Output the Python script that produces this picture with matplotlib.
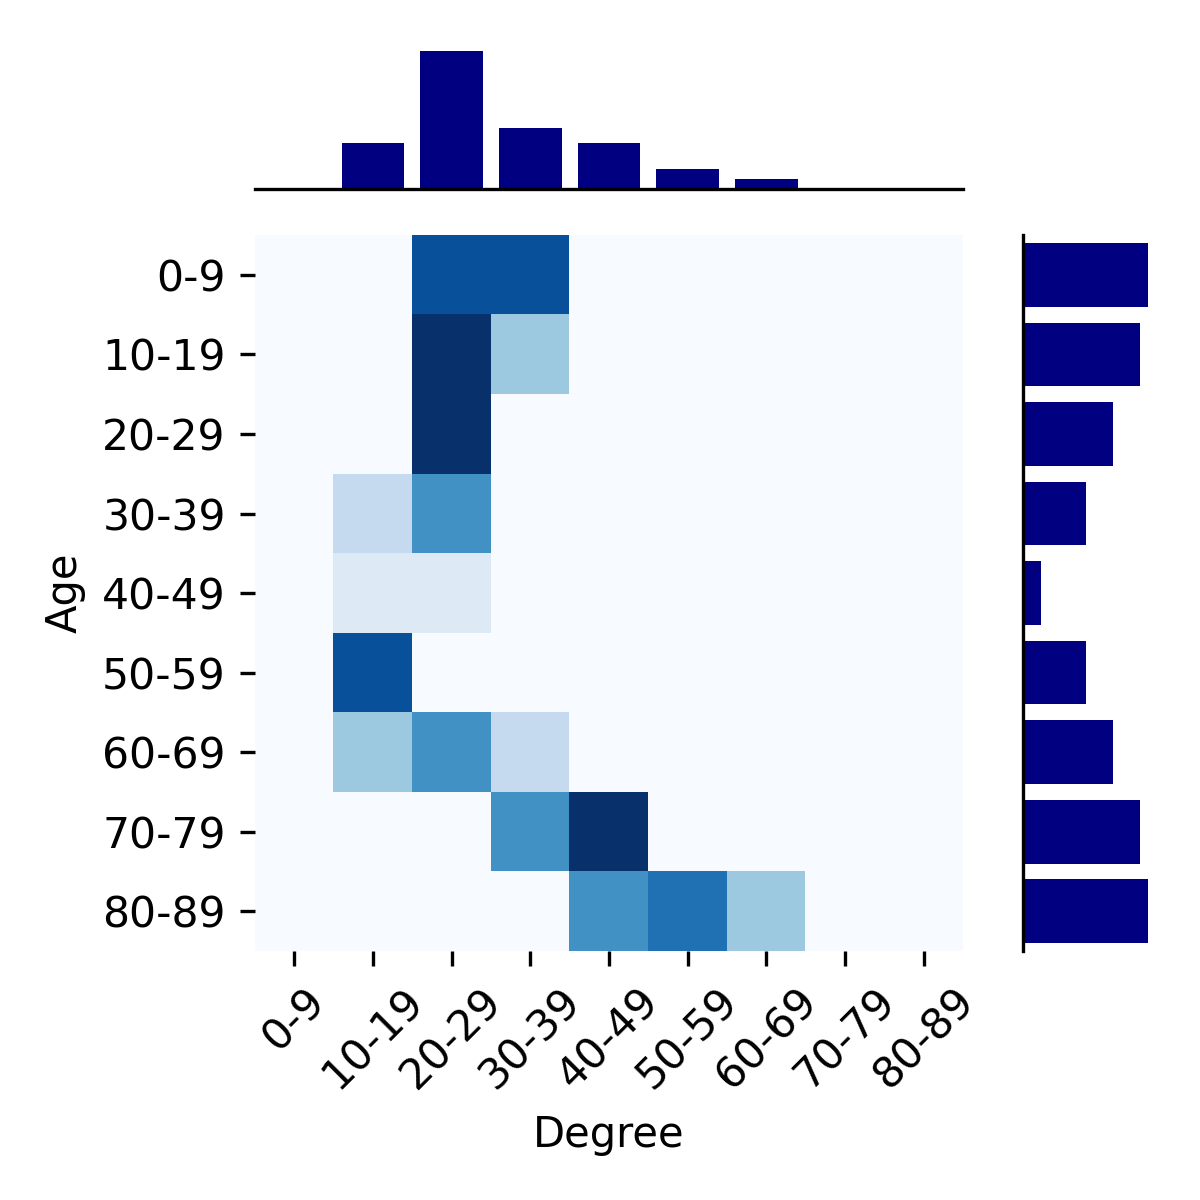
import numpy as np
import matplotlib
matplotlib.use("Agg")
import matplotlib.pyplot as plt

# bins used for both axes
age_bins = ["0-9", "10-19", "20-29", "30-39", "40-49", "50-59", "60-69", "70-79", "80-89"]
degree_bins = ["0-9", "10-19", "20-29", "30-39", "40-49", "50-59", "60-69", "70-79", "80-89"]

# heatmap counts (rows = Age, cols = Degree)
counts = np.array([
    [0, 0, 7, 7, 0, 0, 0, 0, 0],
    [0, 0, 8, 3, 0, 0, 0, 0, 0],
    [0, 0, 8, 0, 0, 0, 0, 0, 0],
    [0, 2, 5, 0, 0, 0, 0, 0, 0],
    [0, 1, 1, 0, 0, 0, 0, 0, 0],
    [0, 7, 0, 0, 0, 0, 0, 0, 0],
    [0, 3, 5, 2, 0, 0, 0, 0, 0],
    [0, 0, 0, 5, 8, 0, 0, 0, 0],
    [0, 0, 0, 0, 5, 6, 3, 0, 0],
])

# marginal bars
degree_totals = [0, 4.6, 13.8, 6.1, 4.6, 2.0, 1.0, 0, 0]
age_totals = [12.5, 11.7, 9.0, 6.3, 1.8, 6.3, 9.0, 11.7, 12.5]

fig = plt.figure(figsize=(4, 4), dpi=300)
ax = fig.add_axes([0.2125, 0.2075, 0.59, 0.5965])
ax_top = fig.add_axes([0.2125, 0.8425, 0.59, 0.115])
ax_right = fig.add_axes([0.8525, 0.2075, 0.1045, 0.5965])

ax.imshow(counts, cmap="Blues", vmin=0, vmax=8, aspect="auto",
          interpolation="nearest")
ax.set_xticks(range(len(degree_bins)))
ax.set_xticklabels(degree_bins, rotation=45, ha="center", fontsize=10.2)
ax.set_yticks(range(len(age_bins)))
ax.set_yticklabels(age_bins, fontsize=10.2)
for s in ax.spines.values():
    s.set_visible(False)
ax.set_xlabel("Degree")
ax.set_ylabel("Age")

ax_top.bar(range(len(degree_bins)), degree_totals, width=0.8, color="navy")
ax_top.set_xlim(-0.5, len(degree_bins) - 0.5)
ax_top.set_ylim(0, max(degree_totals))
ax_top.set_xticks([])
ax_top.set_yticks([])
for side in ["top", "left", "right"]:
    ax_top.spines[side].set_visible(False)

ax_right.barh(range(len(age_bins)), age_totals, height=0.8, color="navy")
ax_right.set_ylim(len(age_bins) - 0.5, -0.5)
ax_right.set_xlim(0, max(age_totals))
ax_right.set_xticks([])
ax_right.set_yticks([])
for side in ["top", "bottom", "right"]:
    ax_right.spines[side].set_visible(False)

plt.savefig("out.png", dpi=300)
